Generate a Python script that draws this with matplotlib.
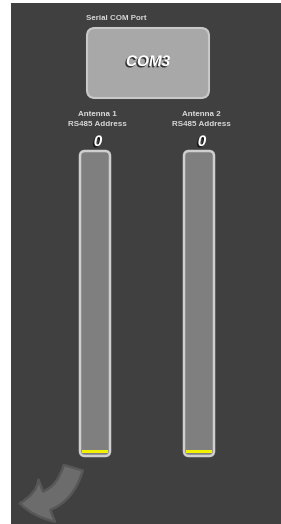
import matplotlib
matplotlib.use("Agg")
import matplotlib.pyplot as plt
from matplotlib.patches import FancyBboxPatch, Rectangle, FancyArrowPatch
import matplotlib.patheffects as pe

plt.rcParams['font.family'] = ['Liberation Sans', 'DejaVu Sans']

# data
port_title = "Serial COM Port"
port_name = "COM3"
antenna_names = ["Antenna 1", "Antenna 2"]
address_label = "RS485 Address"
antenna_values = [0, 0]
value_max = 100

W, H = 281, 524
fig = plt.figure(figsize=(W / 100, H / 100), dpi=100)
fig.patch.set_facecolor("white")
ax = fig.add_axes([0, 0, 1, 1])
ax.set_xlim(0, W)
ax.set_ylim(H, 0)
ax.axis("off")

bg = "#404040"
ax.add_patch(Rectangle((11, 3), W - 11, H - 3, facecolor=bg, edgecolor="none"))

# COM port box
ax.text(86, 18, port_title, color="#d8d8d8", fontsize=5.7, fontweight="bold",
        ha="left", va="center")
ax.add_patch(FancyBboxPatch((87, 28), 122, 70, boxstyle="round,pad=0,rounding_size=8",
                            facecolor="#a8a8a8", edgecolor="#c9c9c9", linewidth=1.5))
ax.text(148, 62, port_name, color="white", fontsize=11, fontweight="bold",
        fontstyle="italic", ha="center", va="center",
        path_effects=[pe.withSimplePatchShadow(offset=(-1, -1), shadow_rgbFace="#222222", alpha=0.9)])

# antenna bars
centers = [95, 199]
bar_w = 30
top, bottom = 151, 456
for cx, name, val in zip(centers, antenna_names, antenna_values):
    ax.text(cx + 2, 114, name, color="#d8d8d8", fontsize=5.8, fontweight="bold",
            ha="center", va="center")
    ax.text(cx + 2, 124, address_label, color="#d8d8d8", fontsize=5.8, fontweight="bold",
            ha="center", va="center")
    ax.text(cx + 3, 142, str(val), color="white", fontsize=11, fontweight="bold",
            fontstyle="italic", ha="center", va="center",
            path_effects=[pe.withSimplePatchShadow(offset=(-1, -1), shadow_rgbFace="#111111", alpha=0.9)])
    ax.add_patch(FancyBboxPatch((cx - bar_w / 2, top), bar_w, bottom - top,
                                boxstyle="round,pad=0,rounding_size=5",
                                facecolor="#7f7f7f", edgecolor="#cfcfcf", linewidth=1.8))
    # level indicator (yellow at base)
    inner = bottom - top - 6
    lvl = max(3, inner * val / value_max)
    ax.add_patch(Rectangle((cx - bar_w / 2 + 2, bottom - 3 - lvl), bar_w - 4, lvl,
                           facecolor="#f2f200", edgecolor="none"))

# back arrow
arr = FancyArrowPatch((74, 465), (17, 503), connectionstyle="arc3,rad=-0.45",
                      arrowstyle="simple,head_width=2.5,head_length=1.5,tail_width=1.1",
                      mutation_scale=13, facecolor="#6c6c6c", edgecolor="#575757",
                      linewidth=1.8)
ax.add_patch(arr)

fig.savefig("out.png", dpi=100, facecolor=fig.get_facecolor())
